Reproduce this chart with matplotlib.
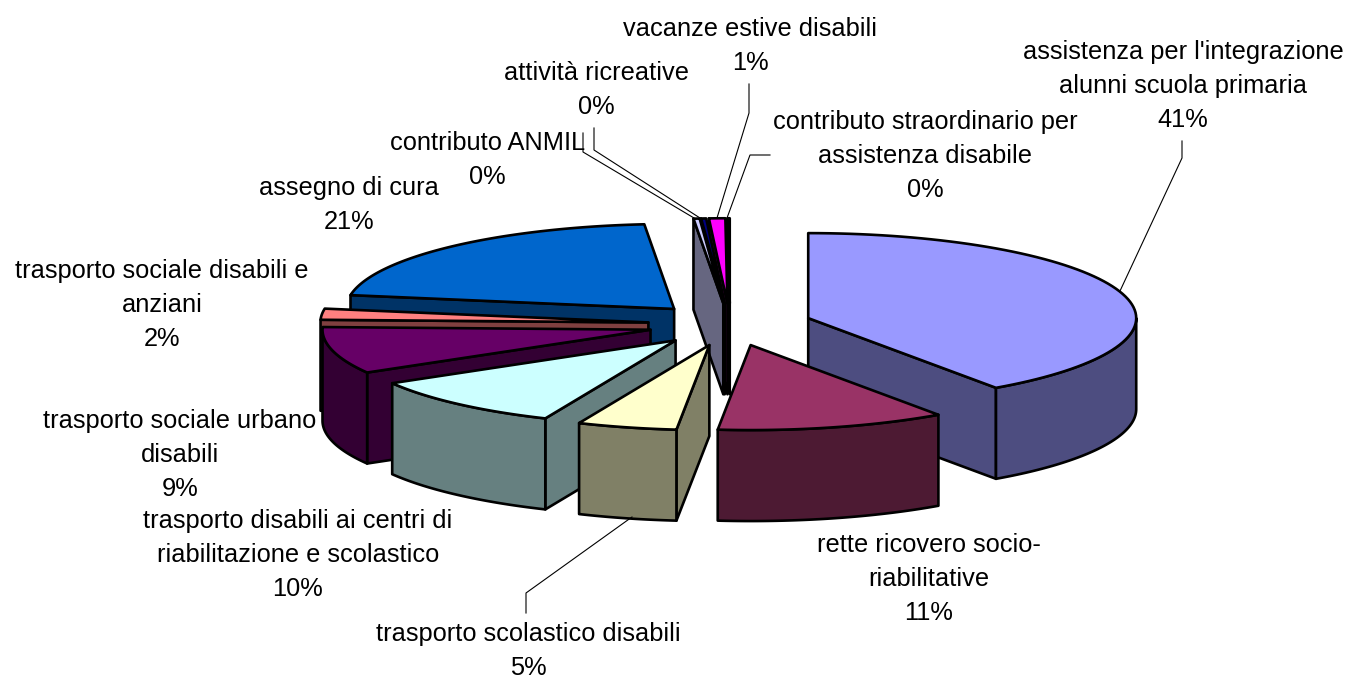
import matplotlib
matplotlib.use("Agg")
import matplotlib.pyplot as plt
import numpy as np
from matplotlib.patches import Polygon

plt.rcParams["font.family"] = ["Liberation Sans", "DejaVu Sans"]

# values (percent, clockwise from 12 o'clock)
labels = ["assistenza per l'integrazione\nalunni scuola primaria\n41%",
          "rette ricovero socio-\nriabilitative\n11%",
          "trasporto scolastico disabili\n5%",
          "trasporto disabili ai centri di\nriabilitazione e scolastico\n10%",
          "trasporto sociale urbano\ndisabili\n9%",
          "trasporto sociale disabili e\nanziani\n2%",
          "assegno di cura\n21%",
          "contributo ANMIL\n0%",
          "attività ricreative\n0%",
          "vacanze estive disabili\n1%",
          "contributo straordinario per\nassistenza disabile\n0%"]
values = [40.3, 11.3, 4.9, 10.1, 8.9, 2.1, 20.95, 0.3, 0.25, 0.8, 0.1]
top_colors = ["#9999FF", "#993366", "#FFFFCC", "#CCFFFF", "#660066", "#FF8080",
              "#0066CC", "#CCCCFF", "#000080", "#FF00FF", "#FFFF00"]
side_colors = ["#4D4D80", "#4D1A33", "#808066", "#668080", "#330033", "#804040",
               "#003366", "#666680", "#000040", "#800080", "#808000"]
label_pos = [(1183, 86), (929, 579), (528, 651), (298, 555), (180, 455), (162, 305),
             (349, 205), (487.5, 160), (596, 90), (750, 46), (925, 156)]
# leader lines: label end, elbow, slice end
leaders = [[(1182, 141), (1182, 158), (1120, 291)],
           [(526, 613), (526, 593), (632, 517)],
           [(583, 133), (583, 152), (694, 218)],
           [(594, 128), (594, 150), (700, 218)],
           [(749, 84), (749, 113), (717, 218)],
           [(770, 155), (750, 155), (727, 218)]]

cx, cy = 730, 324.5
rx, ry = 328, 85
depth = 91
explode = 0.25


def rim(theta, ox, oy):
    return ox + rx * np.sin(theta), oy - ry * np.cos(theta)


fig = plt.figure(figsize=(13.49, 6.79), dpi=100)
ax = fig.add_axes([0, 0, 1, 1])
ax.set_xlim(0, 1349)
ax.set_ylim(679, 0)
ax.axis("off")

edges = np.radians(np.cumsum([0] + values) * 3.6)
starts, ends = edges[:-1], edges[1:]
mids = (starts + ends) / 2
lw = 1.9

# back to front
for i in np.argsort(-np.cos(mids)):
    t0, t1, tm = starts[i], ends[i], mids[i]
    ox, oy = rim(tm, cx, cy)
    ox, oy = cx + explode * (ox - cx), cy + explode * (oy - cy)

    def face(pts):
        ax.add_patch(Polygon(pts, closed=True, facecolor=side_colors[i], edgecolor="black",
                             linewidth=lw, joinstyle="round"))

    # radial side faces, only the ones turned towards the viewer
    if np.sin(t0) < 0:
        x, y = rim(t0, ox, oy)
        face([(ox, oy), (x, y), (x, y + depth), (ox, oy + depth)])
    if np.sin(t1) > 0:
        x, y = rim(t1, ox, oy)
        face([(ox, oy), (x, y), (x, y + depth), (ox, oy + depth)])
    # outer wall, front half only
    a0, a1 = max(t0, np.pi / 2), min(t1, 3 * np.pi / 2)
    if a1 > a0:
        ts = np.linspace(a0, a1, 60)
        x, y = rim(ts, ox, oy)
        face(np.r_[np.c_[x, y], np.c_[x, y + depth][::-1]])
    # top
    ts = np.linspace(t0, t1, 80)
    x, y = rim(ts, ox, oy)
    ax.add_patch(Polygon(np.r_[[(ox, oy)], np.c_[x, y]], closed=True, facecolor=top_colors[i],
                         edgecolor="black", linewidth=lw, joinstyle="round"))

for pts in leaders:
    xs, ys = zip(*pts)
    ax.plot(xs, ys, color="black", linewidth=0.8)

for text, (x, y) in zip(labels, label_pos):
    ax.text(x, y, text, ha="center", va="center", multialignment="center",
            fontsize=18.3, color="black", linespacing=1.55)

fig.savefig("out.png", dpi=100)
